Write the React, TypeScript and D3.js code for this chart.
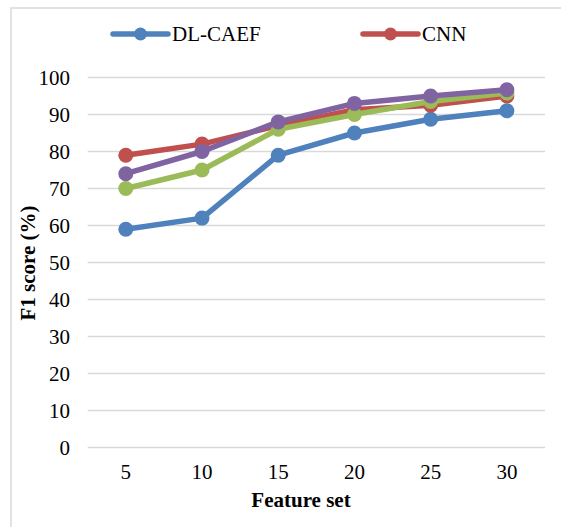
import React, { useEffect, useRef } from 'react';
import * as d3 from 'd3';

const WIDTH = 561;
const HEIGHT = 527;

const featureSets = ['5', '10', '15', '20', '25', '30'];
const yTicks = [0, 10, 20, 30, 40, 50, 60, 70, 80, 90, 100];

const dlCaef = [59, 62, 79, 85, 88.7, 91];
const cnn = [79, 82, 87, 91.3, 92.5, 95];
const seriesGreen = [70, 75, 86, 90, 93.5, 95.8];
const seriesPurple = [74, 80, 88, 93, 95, 96.7];

const seriesNames = ['DL-CAEF', 'CNN', 'Series 3', 'Series 4'];
const seriesColors = ['#4f81bd', '#c0504d', '#9bbb59', '#8064a2'];
const legendNames = ['DL-CAEF', 'CNN'];

const FONT = "'Liberation Serif', 'Times New Roman', Times, 'DejaVu Serif', serif";
const PLOT = { left: 87.7, right: 545, top: 77.5, bottom: 447.5 };

const App = () => {
  const svgRef = useRef<SVGSVGElement | null>(null);

  useEffect(() => {
    if (!svgRef.current) return;
    const svg = d3.select(svgRef.current);
    svg.selectAll('*').remove();

    const allSeries = [dlCaef, cnn, seriesGreen, seriesPurple].map((values, i) => ({
      name: seriesNames[i],
      color: seriesColors[i],
      values,
    }));

    const xScale = d3.scaleBand<string>()
      .domain(featureSets)
      .range([PLOT.left, PLOT.right])
      .padding(0);
    const xc = (c: string) => (xScale(c) || 0) + xScale.bandwidth() / 2;

    const yScale = d3.scaleLinear()
      .domain([0, 100])
      .range([PLOT.bottom, PLOT.top]);

    // chart frame (only left and top edges fall inside the picture)
    svg.append('rect')
      .attr('x', 11)
      .attr('y', 8)
      .attr('width', 600)
      .attr('height', 600)
      .attr('fill', 'none')
      .attr('stroke', '#d9d9d9')
      .attr('stroke-width', 1.5);

    // gridlines
    svg.append('g')
      .selectAll('line')
      .data(yTicks)
      .enter()
      .append('line')
      .attr('x1', PLOT.left)
      .attr('x2', PLOT.right)
      .attr('y1', d => yScale(d))
      .attr('y2', d => yScale(d))
      .attr('stroke', '#d9d9d9')
      .attr('stroke-width', 1.5);

    // y tick labels
    svg.append('g')
      .selectAll('text')
      .data(yTicks)
      .enter()
      .append('text')
      .attr('x', 70)
      .attr('y', d => yScale(d))
      .attr('dy', '0.35em')
      .attr('text-anchor', 'end')
      .style('font-family', FONT)
      .style('font-size', '21px')
      .attr('fill', '#000')
      .text(d => d);

    // x tick labels
    svg.append('g')
      .selectAll('text')
      .data(featureSets)
      .enter()
      .append('text')
      .attr('x', d => xc(d))
      .attr('y', 472)
      .attr('dy', '0.35em')
      .attr('text-anchor', 'middle')
      .style('font-family', FONT)
      .style('font-size', '21px')
      .attr('fill', '#000')
      .text(d => d);

    // axis titles
    svg.append('text')
      .attr('x', 301)
      .attr('y', 507)
      .attr('text-anchor', 'middle')
      .style('font-family', FONT)
      .style('font-size', '21px')
      .style('font-weight', 'bold')
      .text('Feature set');

    svg.append('text')
      .attr('transform', 'rotate(-90)')
      .attr('x', -263)
      .attr('y', 35)
      .attr('text-anchor', 'middle')
      .style('font-family', FONT)
      .style('font-size', '21px')
      .style('font-weight', 'bold')
      .text('F1 score (%)');

    // lines + markers
    const line = d3.line<number>()
      .x((_, i) => xc(featureSets[i]))
      .y(d => yScale(d));

    allSeries.forEach(s => {
      const g = svg.append('g');
      g.append('path')
        .datum(s.values)
        .attr('d', line)
        .attr('fill', 'none')
        .attr('stroke', s.color)
        .attr('stroke-width', 5.5)
        .attr('stroke-linejoin', 'round')
        .attr('stroke-linecap', 'round');
      g.selectAll('circle')
        .data(s.values)
        .enter()
        .append('circle')
        .attr('cx', (_, i) => xc(featureSets[i]))
        .attr('cy', d => yScale(d))
        .attr('r', 7.5)
        .attr('fill', s.color);
    });

    // legend
    const legendX = [113, 363];
    legendNames.forEach((name, i) => {
      const color = seriesColors[seriesNames.indexOf(name)];
      const g = svg.append('g').attr('transform', `translate(${legendX[i]}, 34)`);
      g.append('line')
        .attr('x1', 0)
        .attr('x2', 55)
        .attr('y1', 0)
        .attr('y2', 0)
        .attr('stroke', color)
        .attr('stroke-width', 5.5)
        .attr('stroke-linecap', 'round');
      g.append('circle')
        .attr('cx', 27.5)
        .attr('cy', 0)
        .attr('r', 6.5)
        .attr('fill', color);
      g.append('text')
        .attr('x', 59)
        .attr('y', 0)
        .attr('dy', '0.35em')
        .style('font-family', FONT)
        .style('font-size', '21px')
        .attr('fill', '#000')
        .text(name);
    });
  }, []);

  return (
    <svg
      ref={svgRef}
      width={WIDTH}
      height={HEIGHT}
      style={{ position: 'absolute', left: 0, top: 0, background: '#fff' }}
    />
  );
};

export default App;
